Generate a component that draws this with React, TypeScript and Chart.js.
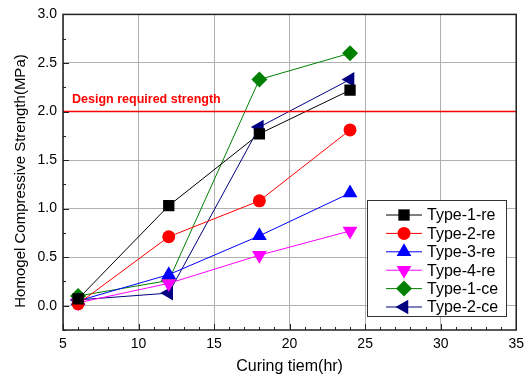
import React, { useEffect, useRef } from "react";
import { Chart, registerables } from "chart.js";

Chart.register(...registerables);

const curingHours = [6, 12, 18, 24];
const type1re = [0.07, 1.03, 1.77, 2.22];
const type2re = [0.02, 0.71, 1.08, 1.81];
const type3re = [0.05, 0.32, 0.72, 1.16];
const type4re = [0.03, 0.23, 0.52, 0.77];
const type1ce = [0.1, 0.26, 2.33, 2.6];
const type2ce = [0.06, 0.13, 1.84, 2.33];
const seriesNames = ["Type-1-re", "Type-2-re", "Type-3-re", "Type-4-re", "Type-1-ce", "Type-2-ce"];
const designStrength = 2.0;
const designLabel = "Design required strength";
const yTitle = "Homogel Compressive Strength(MPa)";
const xTitle = "Curing tiem(hr)";
const xTicks = [5, 10, 15, 20, 25, 30, 35];
const yTicks = [0, 0.5, 1.0, 1.5, 2.0, 2.5, 3.0];

const FONT = "'Liberation Sans', Arial, sans-serif";

const styles = [
  { color: "#000000", point: "rect", radius: 8, rotation: 0 },
  { color: "#ff0000", point: "circle", radius: 6.5, rotation: 0 },
  { color: "#0000ff", point: "triangle", radius: 8.5, rotation: 0 },
  { color: "#ff00ff", point: "triangle", radius: 8.5, rotation: 180 },
  { color: "#008000", point: "rectRot", radius: 8, rotation: 0 },
  { color: "#000080", point: "triangle", radius: 8.5, rotation: -90 },
];

const allSeries = [type1re, type2re, type3re, type4re, type1ce, type2ce];

function drawMarker(ctx: CanvasRenderingContext2D, st: any, x: number, y: number) {
  const r = st.radius;
  ctx.beginPath();
  if (st.point === "rect") {
    const s = Math.SQRT1_2 * r;
    ctx.rect(x - s, y - s, 2 * s, 2 * s);
  } else if (st.point === "circle") {
    ctx.arc(x, y, r, 0, Math.PI * 2);
  } else if (st.point === "rectRot") {
    ctx.moveTo(x, y - r);
    ctx.lineTo(x + r, y);
    ctx.lineTo(x, y + r);
    ctx.lineTo(x - r, y);
    ctx.closePath();
  } else {
    let rad = (st.rotation * Math.PI) / 180;
    for (let k = 0; k < 3; k++) {
      const px = x + Math.sin(rad) * r;
      const py = y - Math.cos(rad) * r;
      if (k === 0) ctx.moveTo(px, py);
      else ctx.lineTo(px, py);
      rad += (2 * Math.PI) / 3;
    }
    ctx.closePath();
  }
  ctx.fill();
}

const framePlugin = {
  id: "frameAndDecor",
  afterDatasetsDraw(chart: any) {
    const { ctx, chartArea, scales } = chart;
    const xs = scales.x;
    const ys = scales.y;
    ctx.save();
    // design label
    ctx.fillStyle = "#ff0000";
    ctx.font = `bold 12.5px ${FONT}`;
    ctx.textAlign = "left";
    ctx.textBaseline = "middle";
    ctx.fillText(designLabel, xs.getPixelForValue(5.6), ys.getPixelForValue(designStrength) - 12);

    // y title
    ctx.save();
    ctx.translate(21, 181);
    ctx.rotate(-Math.PI / 2);
    ctx.fillStyle = "#000";
    ctx.font = `15px ${FONT}`;
    ctx.textAlign = "center";
    ctx.textBaseline = "middle";
    ctx.fillText(yTitle, 0, 0);
    ctx.restore();

    // inward ticks
    ctx.strokeStyle = "#222";
    ctx.lineWidth = 1;
    ctx.beginPath();
    for (let v = 5; v <= 35; v += 1) {
      const px = Math.round(xs.getPixelForValue(v)) + 0.5;
      const len = v % 5 === 0 ? 6 : 3;
      ctx.moveTo(px, chartArea.bottom);
      ctx.lineTo(px, chartArea.bottom - len);
    }
    for (let i = -1; i <= 12; i++) {
      const v = i * 0.25;
      const py = Math.round(ys.getPixelForValue(v)) + 0.5;
      const len = i % 2 === 0 ? 6 : 3;
      ctx.moveTo(chartArea.left, py);
      ctx.lineTo(chartArea.left + len, py);
    }
    ctx.stroke();

    // frame
    ctx.strokeStyle = "#222";
    ctx.lineWidth = 1.5;
    ctx.strokeRect(chartArea.left, chartArea.top, chartArea.right - chartArea.left, chartArea.bottom - chartArea.top);

    // legend
    const lx = 367, ly = 200, lw = 139, lh = 116;
    ctx.fillStyle = "#ffffff";
    ctx.fillRect(lx, ly, lw, lh);
    ctx.strokeStyle = "#333";
    ctx.lineWidth = 1;
    ctx.strokeRect(lx + 0.5, ly + 0.5, lw, lh);
    ctx.font = `16px ${FONT}`;
    ctx.textBaseline = "middle";
    ctx.textAlign = "left";
    seriesNames.forEach((name, i) => {
      const cy = 215 + i * 18.4;
      const st = styles[i];
      ctx.strokeStyle = st.color;
      ctx.lineWidth = 1;
      ctx.beginPath();
      ctx.moveTo(386, cy);
      ctx.lineTo(422, cy);
      ctx.stroke();
      ctx.fillStyle = st.color;
      drawMarker(ctx, st, 404, cy);
      ctx.fillStyle = "#000";
      ctx.fillText(name, 427, cy + 1);
    });
    ctx.restore();
  },
};

export default function App() {
  const ref = useRef<HTMLCanvasElement>(null);
  useEffect(() => {
    document.body.style.margin = "0";
    const datasets: any[] = allSeries.map((vals, i) => ({
      label: seriesNames[i],
      data: curingHours.map((h, j) => ({ x: h, y: vals[j] })),
      borderColor: styles[i].color,
      backgroundColor: styles[i].color,
      borderWidth: 1,
      pointStyle: styles[i].point,
      pointRadius: styles[i].radius,
      pointRotation: styles[i].rotation,
      pointBorderWidth: 0,
      showLine: true,
      tension: 0,
    }));
    datasets.unshift({
      label: "design",
      data: [
        { x: 5, y: designStrength },
        { x: 35, y: designStrength },
      ],
      borderColor: "#ff0000",
      borderWidth: 1.5,
      pointRadius: 0,
      showLine: true,
    });
    const chart = new Chart(ref.current!, {
      type: "scatter",
      data: { datasets },
      options: {
        animation: false,
        responsive: false,
        layout: { padding: { left: 0, right: 13, top: 13, bottom: 0 } },
        plugins: { legend: { display: false }, tooltip: { enabled: false } },
        scales: {
          x: {
            type: "linear",
            min: 5,
            max: 35,
            afterBuildTicks: (s: any) => {
              s.ticks = xTicks.map((v) => ({ value: v }));
            },
            afterFit: (s: any) => {
              s.height = 46;
            },
            grid: { color: "#b0b0b0", lineWidth: 1, drawTicks: false },
            border: { display: false },
            ticks: { font: { family: FONT, size: 14 }, color: "#000", padding: 6, maxRotation: 0 },
            title: {
              display: true,
              text: xTitle,
              font: { family: FONT, size: 16 },
              color: "#000",
              padding: { top: 0, bottom: 0 },
            },
          },
          y: {
            type: "linear",
            min: -0.25,
            max: 3.0,
            afterBuildTicks: (s: any) => {
              s.ticks = yTicks.map((v) => ({ value: v }));
            },
            afterFit: (s: any) => {
              s.width = 63;
            },
            grid: { color: "#b0b0b0", lineWidth: 1, drawTicks: false },
            border: { display: false },
            ticks: {
              font: { family: FONT, size: 14 },
              color: "#000",
              padding: 6,
              callback: (v: any) => Number(v).toFixed(1),
            },
            title: { display: false },
          },
        },
      },
      plugins: [framePlugin],
    });
    return () => chart.destroy();
  }, []);
  return (
    <div style={{ position: "fixed", left: 0, top: 0, width: 530, height: 376, background: "#fff" }}>
      <canvas ref={ref} width={530} height={376} style={{ width: 530, height: 376 }} />
    </div>
  );
}
